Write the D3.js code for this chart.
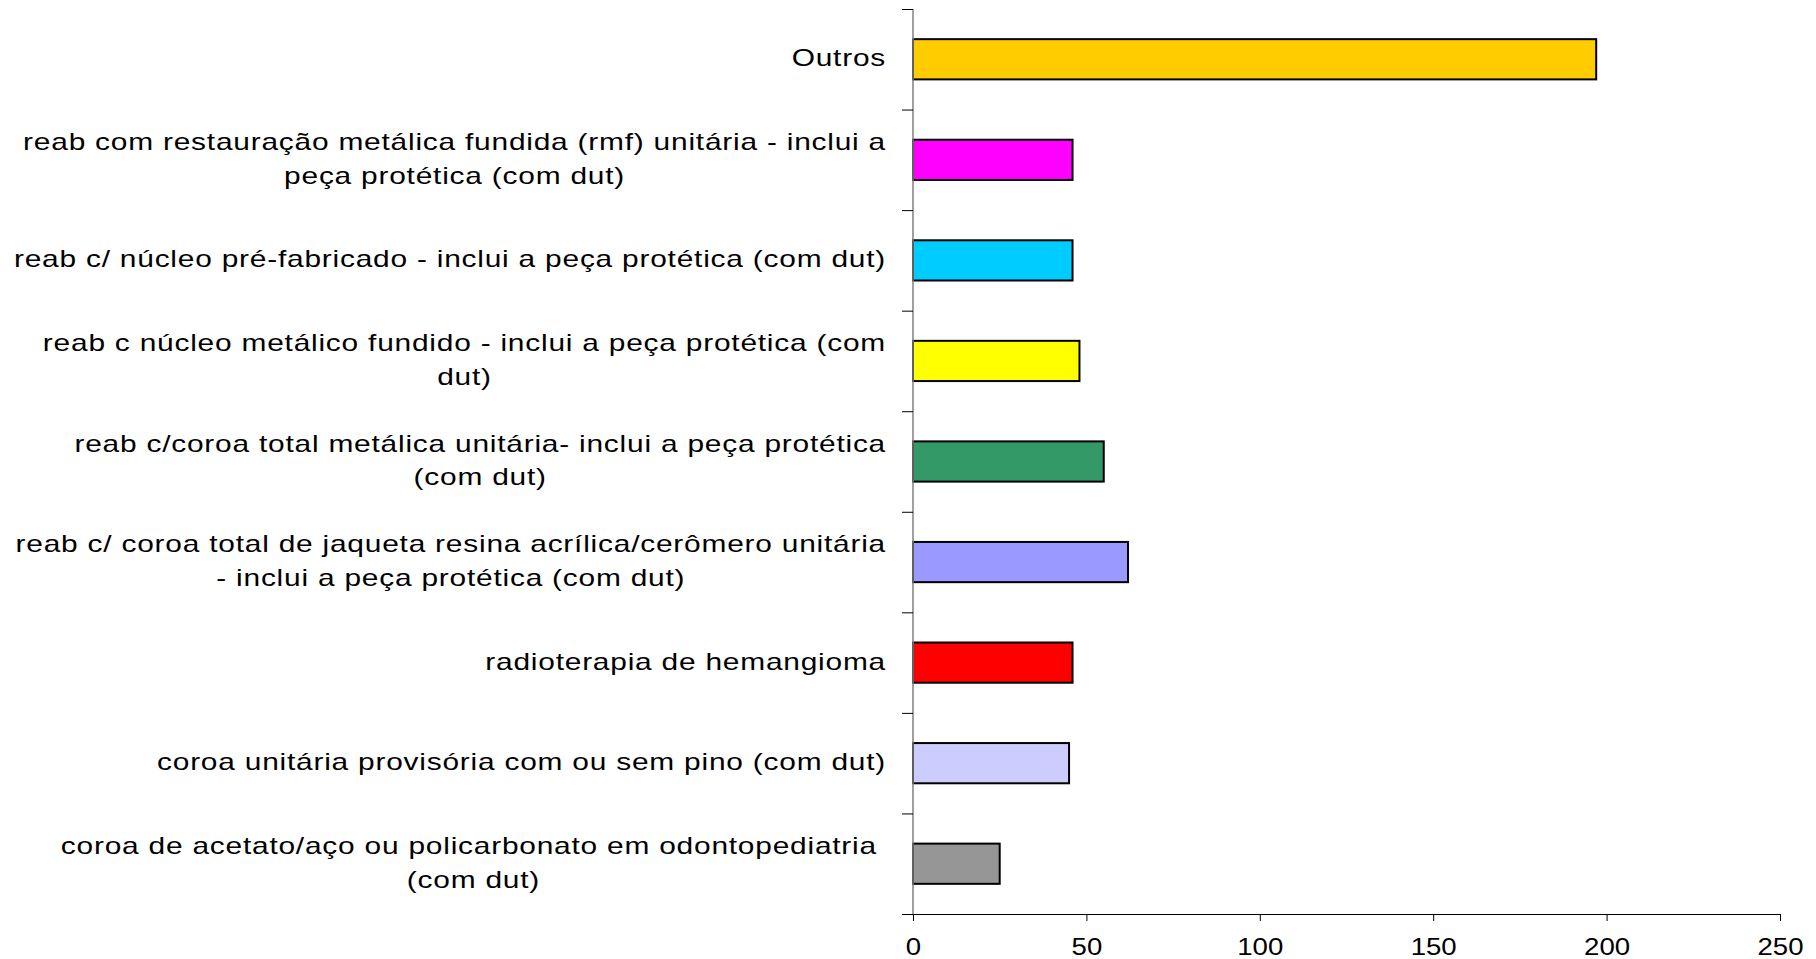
<!DOCTYPE html>
<html>
<head>
<meta charset="utf-8">
<script src="https://cdn.jsdelivr.net/npm/d3@7"></script>
<style>
  body { margin: 0; background: #fff; }
  svg { display: block; }
  text { font-family: "Liberation Sans", Arial, sans-serif; fill: #000; }
</style>
</head>
<body>
<div id="chart"></div>
<script>
// categories, top to bottom, split into the lines shown in the picture
const categories = [
    ["Outros"],
    ["reab com restauração metálica fundida (rmf) unitária - inclui a", "peça protética (com dut)"],
    ["reab c/ núcleo pré-fabricado - inclui a peça protética (com dut)"],
    ["reab c núcleo metálico fundido - inclui a peça protética (com", "dut)"],
    ["reab c/coroa total metálica unitária- inclui a peça protética", "(com dut)"],
    ["reab c/ coroa total de jaqueta resina acrílica/cerômero unitária", "- inclui a peça protética (com dut)"],
    ["radioterapia de hemangioma"],
    ["coroa unitária provisória com ou sem pino (com dut)"],
    ["coroa de acetato/aço ou policarbonato em odontopediatria ", "(com dut)"]
];
const values = [197, 46, 46, 48, 55, 62, 46, 45, 25];
const barColors = ["#FFCC00", "#FF00FF", "#00CCFF", "#FFFF00", "#339966", "#9999FF", "#FF0000", "#CCCCFF", "#969696"];
const xTicks = [0, 50, 100, 150, 200, 250];

const width = 1816, height = 959;
const margin = { left: 913, right: 36, top: 9, bottom: 45 };

const svg = d3.select("#chart").append("svg")
    .attr("width", width)
    .attr("height", height);

const x = d3.scaleLinear()
    .domain([0, 250])
    .range([margin.left, width - margin.right]);

const y = d3.scaleBand()
    .domain(d3.range(categories.length))
    .range([margin.top, height - margin.bottom])
    .paddingInner(0.6)
    .paddingOuter(0.3);

// bars
svg.append("g")
    .selectAll("rect")
    .data(values)
    .enter().append("rect")
    .attr("x", x(0))
    .attr("y", (d, i) => y(i))
    .attr("width", d => x(d) - x(0))
    .attr("height", y.bandwidth())
    .attr("fill", (d, i) => barColors[i])
    .attr("stroke", "#000")
    .attr("stroke-width", 2);

// y axis: line plus ticks between categories
const step = y.step();
const yAxis = svg.append("g");
yAxis.append("line")
    .attr("x1", x(0)).attr("x2", x(0))
    .attr("y1", margin.top).attr("y2", height - margin.bottom)
    .attr("stroke", "#808080").attr("stroke-width", 1.5);
yAxis.selectAll(".ytick")
    .data(d3.range(categories.length + 1))
    .enter().append("line")
    .attr("x1", x(0) - 11).attr("x2", x(0))
    .attr("y1", i => margin.top + i * step + 0.5)
    .attr("y2", i => margin.top + i * step + 0.5)
    .attr("stroke", "#000").attr("stroke-width", 1);

// x axis
const xAxis = svg.append("g")
    .attr("transform", `translate(0,${height - margin.bottom})`)
    .call(d3.axisBottom(x).tickValues(xTicks).tickSize(7).tickSizeOuter(0));
xAxis.select(".domain")
    .attr("d", `M${x(0) - 11},0.5H${x(250)}`)
    .attr("stroke", "#000");
xAxis.selectAll(".tick line").attr("stroke", "#000");
xAxis.selectAll(".tick text")
    .attr("y", 41)
    .attr("dy", null)
    .attr("transform", "scale(1.2,1)")
    .style("font-family", '"Liberation Sans", Arial, sans-serif')
    .style("font-size", "23px")
    .attr("fill", "#000");

// category labels: centred block, right edge near the axis,
// glyphs stretched sideways like the original
const labelRight = 886;
const lineH = 33.6;
const sx = 1.3;
const labels = svg.append("g")
    .selectAll("g")
    .data(categories)
    .enter().append("g")
    .attr("transform", `translate(${labelRight},0) scale(${sx},1)`);

labels.each(function (lines, i) {
    const t = d3.select(this).append("text")
        .style("font-size", "23px")
        .style("letter-spacing", "0.6px")
        .style("white-space", "pre")
        .attr("text-anchor", "middle");
    const cy = y(i) + y.bandwidth() / 2 - 1;
    lines.forEach((ln, k) => {
        t.append("tspan")
            .attr("y", cy + (k - (lines.length - 1) / 2) * lineH)
            .attr("dy", "0.35em")
            .text(ln);
    });
    // widest line decides where the block sits
    let maxW = 0;
    t.selectAll("tspan").each(function () {
        maxW = Math.max(maxW, this.getComputedTextLength());
    });
    t.selectAll("tspan").attr("x", -maxW / 2);
});
</script>
</body>
</html>
